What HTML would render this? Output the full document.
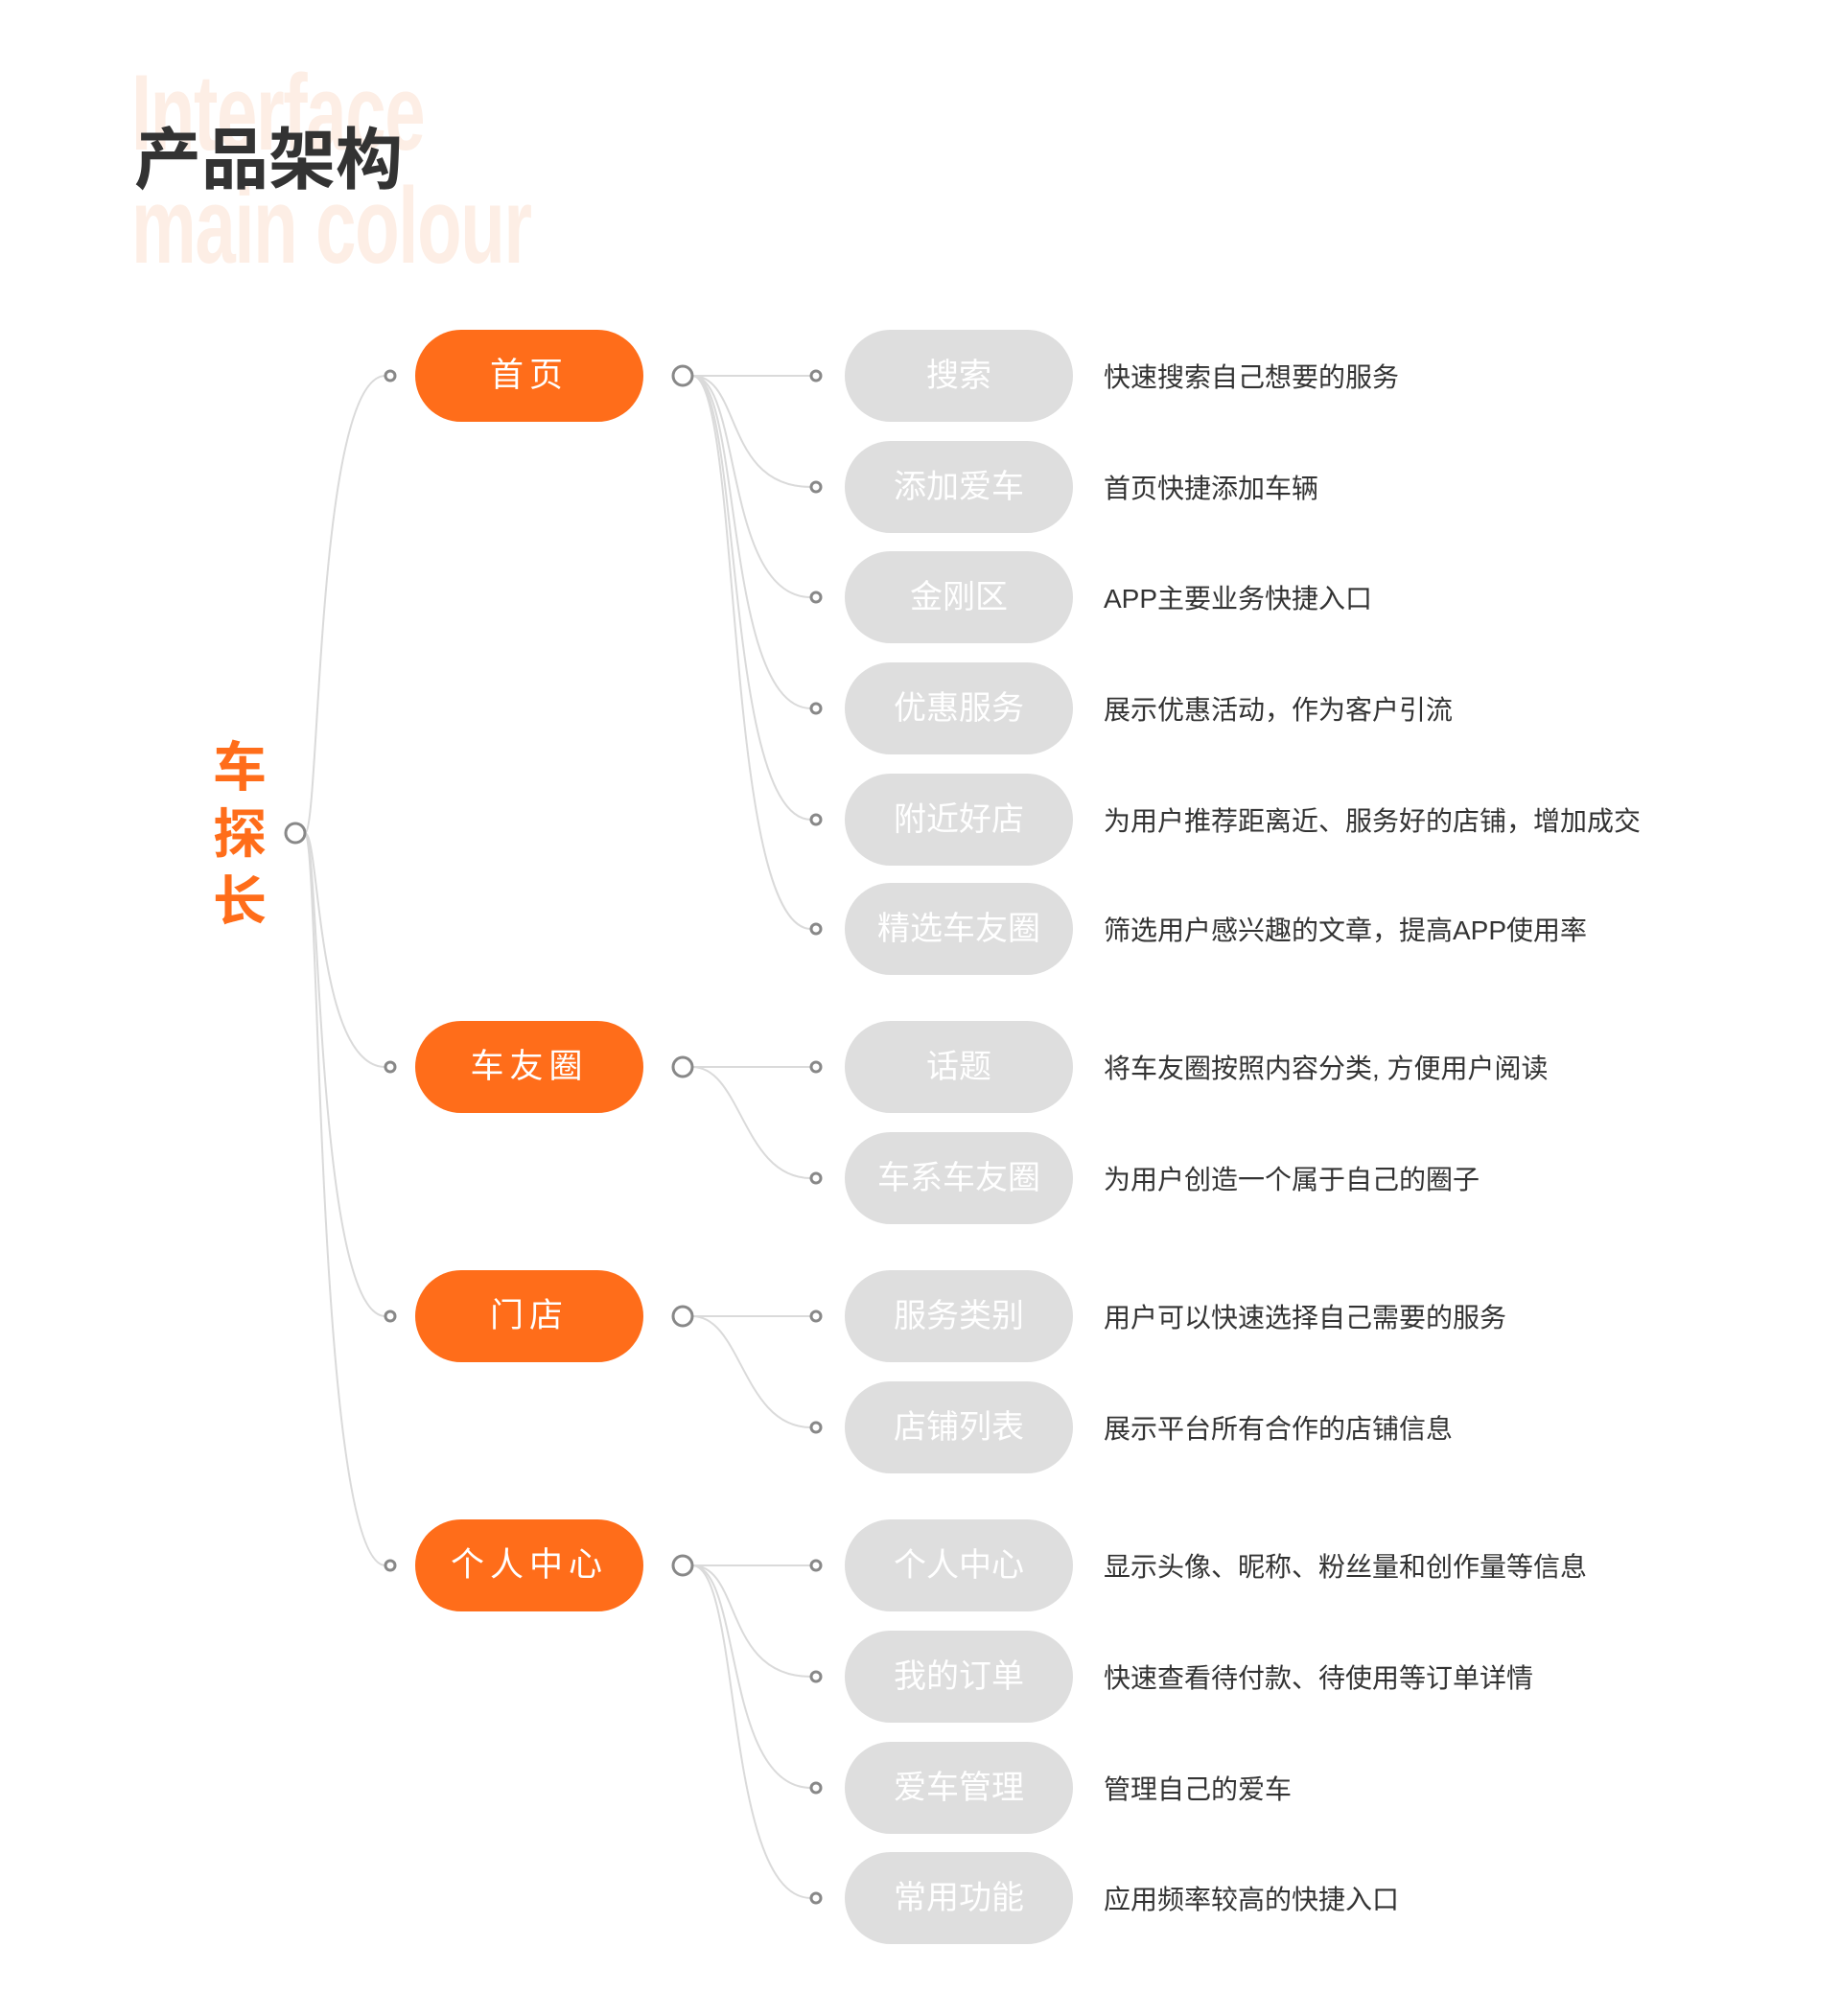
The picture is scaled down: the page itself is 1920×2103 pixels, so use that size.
<!DOCTYPE html>
<html><head><meta charset="utf-8"><style>
body{margin:0;width:1920px;height:2099px;background:#fff;position:relative;overflow:hidden;font-family:"Liberation Sans","Noto Sans CJK SC",sans-serif}
.bg{position:absolute;left:137px;color:#fdeee5;font-size:112px;font-weight:bold;transform:scaleX(0.68);transform-origin:left top;line-height:1;white-space:nowrap;letter-spacing:-2px}
.title{position:absolute;left:140px;top:132px;font-size:70px;font-weight:bold;color:#333;line-height:1}
#dg{position:absolute;left:4px;top:4px;width:1920px;height:2099px}
.root{position:absolute;left:218px;top:762px;width:60px;font-size:56px;font-weight:bold;color:#ff6d1a;line-height:70px}
.op{position:absolute;left:429px;width:238px;height:96px;border-radius:48px;background:#ff6d1a;color:#fff;font-size:35px;text-align:center;line-height:96px;letter-spacing:6px}
.gp{position:absolute;left:877px;width:238px;height:96px;border-radius:48px;background:#dedede;color:#fff;font-size:34px;text-align:center;line-height:96px}
.d{position:absolute;left:1147px;font-size:28px;color:#333;line-height:40px;white-space:nowrap}
svg{position:absolute;left:0;top:0}
</style></head><body>
<div class="bg" style="top:62px">Interface</div>
<div class="bg" style="top:180px">main colour</div>
<div class="title">产品架构</div>
<div id="dg">
<div class="root">车<br>探<br>长</div>
<svg width="1920" height="2099" fill="none">
<g stroke="#dadada" stroke-width="2">
<path d="M314 865 C330 865 325 388 398 388"/>
<path d="M314 865 C330 865 325 1109 398 1109"/>
<path d="M314 865 C330 865 325 1369 398 1369"/>
<path d="M314 865 C330 865 325 1629 398 1629"/>
<path d="M718 388 L842 388"/>
<path d="M718 388 C770 388 750 504 842 504"/>
<path d="M718 388 C770 388 750 619 842 619"/>
<path d="M718 388 C770 388 750 735 842 735"/>
<path d="M718 388 C770 388 750 851 842 851"/>
<path d="M718 388 C770 388 750 965 842 965"/>
<path d="M718 1109 L842 1109"/>
<path d="M718 1109 C770 1109 770 1225 842 1225"/>
<path d="M718 1369 L842 1369"/>
<path d="M718 1369 C770 1369 770 1485 842 1485"/>
<path d="M718 1629 L842 1629"/>
<path d="M718 1629 C770 1629 750 1745 842 1745"/>
<path d="M718 1629 C770 1629 750 1861 842 1861"/>
<path d="M718 1629 C770 1629 750 1976 842 1976"/>
</g>
<g stroke="#888" stroke-width="3" fill="#fff">
<circle cx="304" cy="865" r="10"/>
<circle cx="708" cy="388" r="10"/><circle cx="708" cy="1109" r="10"/><circle cx="708" cy="1369" r="10"/><circle cx="708" cy="1629" r="10"/>
</g>
<g stroke="#888" stroke-width="3" fill="#fff">
<circle cx="403" cy="388" r="5"/><circle cx="403" cy="1109" r="5"/><circle cx="403" cy="1369" r="5"/><circle cx="403" cy="1629" r="5"/>
<circle cx="847" cy="388" r="5"/><circle cx="847" cy="504" r="5"/><circle cx="847" cy="619" r="5"/><circle cx="847" cy="735" r="5"/><circle cx="847" cy="851" r="5"/><circle cx="847" cy="965" r="5"/>
<circle cx="847" cy="1109" r="5"/><circle cx="847" cy="1225" r="5"/><circle cx="847" cy="1369" r="5"/><circle cx="847" cy="1485" r="5"/>
<circle cx="847" cy="1629" r="5"/><circle cx="847" cy="1745" r="5"/><circle cx="847" cy="1861" r="5"/><circle cx="847" cy="1976" r="5"/>
</g>
</svg>
<div class="op" style="top:340px">首页</div>
<div class="op" style="top:1061px">车友圈</div>
<div class="op" style="top:1321px">门店</div>
<div class="op" style="top:1581px">个人中心</div>

<div class="gp" style="top:340px">搜索</div><div class="d" style="top:370px">快速搜索自己想要的服务</div>
<div class="gp" style="top:456px">添加爱车</div><div class="d" style="top:486px">首页快捷添加车辆</div>
<div class="gp" style="top:571px">金刚区</div><div class="d" style="top:601px">APP主要业务快捷入口</div>
<div class="gp" style="top:687px">优惠服务</div><div class="d" style="top:717px">展示优惠活动，作为客户引流</div>
<div class="gp" style="top:803px">附近好店</div><div class="d" style="top:833px">为用户推荐距离近、服务好的店铺，增加成交</div>
<div class="gp" style="top:917px">精选车友圈</div><div class="d" style="top:947px">筛选用户感兴趣的文章，提高APP使用率</div>
<div class="gp" style="top:1061px">话题</div><div class="d" style="top:1091px">将车友圈按照内容分类, 方便用户阅读</div>
<div class="gp" style="top:1177px">车系车友圈</div><div class="d" style="top:1207px">为用户创造一个属于自己的圈子</div>
<div class="gp" style="top:1321px">服务类别</div><div class="d" style="top:1351px">用户可以快速选择自己需要的服务</div>
<div class="gp" style="top:1437px">店铺列表</div><div class="d" style="top:1467px">展示平台所有合作的店铺信息</div>
<div class="gp" style="top:1581px">个人中心</div><div class="d" style="top:1611px">显示头像、昵称、粉丝量和创作量等信息</div>
<div class="gp" style="top:1697px">我的订单</div><div class="d" style="top:1727px">快速查看待付款、待使用等订单详情</div>
<div class="gp" style="top:1813px">爱车管理</div><div class="d" style="top:1843px">管理自己的爱车</div>
<div class="gp" style="top:1928px">常用功能</div><div class="d" style="top:1958px">应用频率较高的快捷入口</div>
</div>
</body></html>
